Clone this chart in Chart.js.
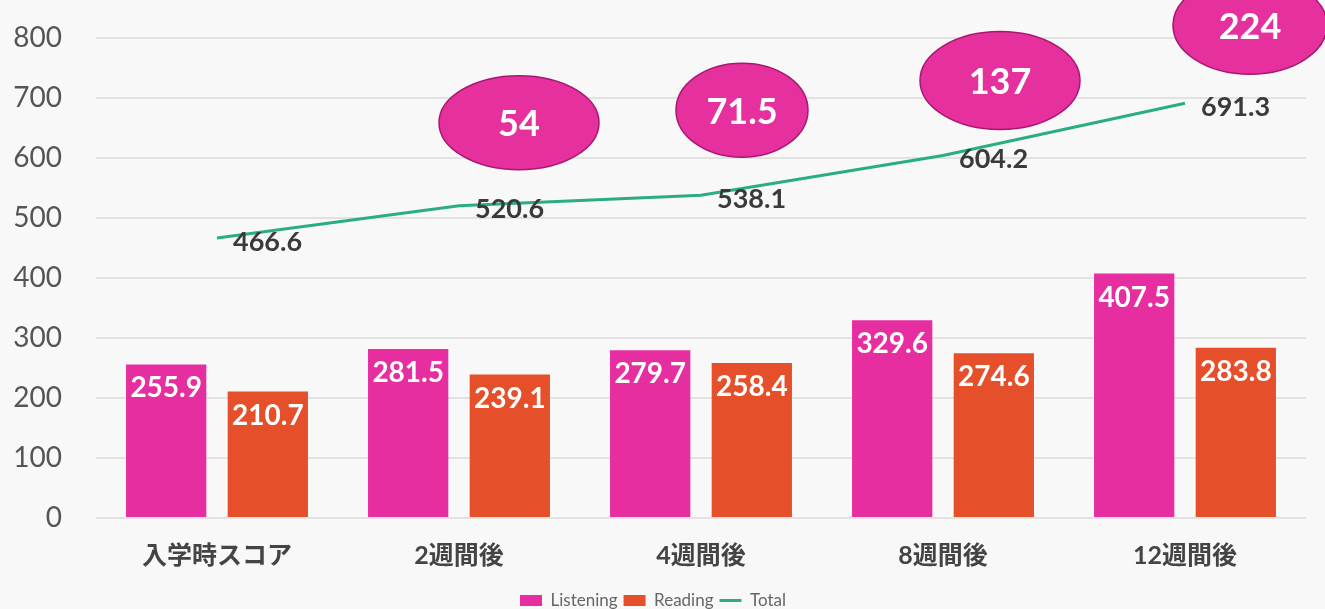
<!DOCTYPE html>
<html>
<head>
<meta charset="utf-8">
<script src="https://cdn.jsdelivr.net/npm/chart.js@4/dist/chart.umd.min.js"></script>
<style>
  html, body { margin: 0; padding: 0; background: #f8f8f8; }
  #wrap { width: 1325px; height: 609px; position: relative; }
</style>
</head>
<body>
<div id="wrap"><canvas id="scoreChart"></canvas></div>
<script>
// --- Data ---
const categories = ['入学時スコア', '2週間後', '4週間後', '8週間後', '12週間後'];
const listening = [255.9, 281.5, 279.7, 329.6, 407.5];
const reading = [210.7, 239.1, 258.4, 274.6, 283.8];
const total = [466.6, 520.6, 538.1, 604.2, 691.3];
const gains = [null, 54, 71.5, 137, 224];
const yMax = 800;
const yStep = 100;

const FONT = 'Lato, "Noto Sans CJK JP", sans-serif';

// bar value labels, drawn inside the top of each bar
const barLabels = {
    id: 'barLabels',
    afterDatasetsDraw(chart) {
        const ctx = chart.ctx;
        ctx.save();
        ctx.font = 'bold 28px ' + FONT;
        ctx.fillStyle = '#ffffff';
        ctx.textAlign = 'center';
        ctx.textBaseline = 'middle';
        [0, 1].forEach(di => {
            chart.getDatasetMeta(di).data.forEach((bar, i) => {
                const v = chart.data.datasets[di].data[i];
                ctx.fillText(v.toFixed(1), bar.x, bar.y + 24);
            });
        });
        ctx.restore();
    }
};

// total labels to the right of each line point, plus the gain ellipses
const totalLabels = {
    id: 'totalLabels',
    afterDatasetsDraw(chart) {
        const ctx = chart.ctx;
        const meta = chart.getDatasetMeta(2);
        ctx.save();
        ctx.font = 'bold 27px ' + FONT;
        ctx.fillStyle = '#3a3a3a';
        ctx.textAlign = 'left';
        ctx.textBaseline = 'middle';
        meta.data.forEach((pt, i) => {
            ctx.fillText(total[i].toFixed(1), pt.x + 16, pt.y + 4);
        });

        // ellipse placement relative to the line point
        const shift = [null, [60, -83, 80, 47], [41, -85, 66, 47], [57, -75, 80, 49], [65, -78, 77, 49]];
        meta.data.forEach((pt, i) => {
            if (gains[i] == null) return;
            const [dx, dy, rx, ry] = shift[i];
            const cx = pt.x + dx, cy = pt.y + dy;
            ctx.beginPath();
            ctx.ellipse(cx, cy, rx, ry, 0, 0, Math.PI * 2);
            ctx.fillStyle = '#e5309e';
            ctx.fill();
            ctx.lineWidth = 1.5;
            ctx.strokeStyle = '#a8176f';
            ctx.stroke();
            ctx.font = 'bold 36px ' + FONT;
            ctx.fillStyle = '#ffffff';
            ctx.textAlign = 'center';
            ctx.fillText(String(gains[i]), cx, cy + 2);
        });
        ctx.restore();
    }
};

document.addEventListener('DOMContentLoaded', () => {
    const ctx = document.getElementById('scoreChart').getContext('2d');
    new Chart(ctx, {
        data: {
            labels: categories,
            datasets: [
                {
                    type: 'bar',
                    label: 'Listening',
                    data: listening,
                    backgroundColor: '#e62ea0',
                    categoryPercentage: 0.84,
                    barPercentage: 0.79
                },
                {
                    type: 'bar',
                    label: 'Reading',
                    data: reading,
                    backgroundColor: '#e5502b',
                    categoryPercentage: 0.84,
                    barPercentage: 0.79
                },
                {
                    type: 'line',
                    label: 'Total',
                    data: total,
                    borderColor: '#2aad84',
                    backgroundColor: '#2aad84',
                    borderWidth: 3,
                    pointRadius: 0,
                    tension: 0
                }
            ]
        },
        options: {
            responsive: true,
            maintainAspectRatio: false,
            animation: false,
            layout: { padding: { top: 38, right: 19, left: 0, bottom: -10 } },
            plugins: {
                legend: {
                    position: 'bottom',
                    labels: {
                        usePointStyle: true,
                        pointStyleWidth: 22,
                        boxHeight: 11,
                        padding: 6,
                        color: '#666666',
                        font: { family: FONT, size: 17 },
                        generateLabels(chart) {
                            const items = Chart.defaults.plugins.legend.labels.generateLabels(chart);
                            items.forEach(it => {
                                it.pointStyle = it.datasetIndex === 2 ? 'line' : 'rect';
                            });
                            return items;
                        }
                    }
                },
                tooltip: { enabled: false }
            },
            scales: {
                x: {
                    grid: { display: false },
                    border: { display: false },
                    ticks: {
                        color: '#444444',
                        padding: 15,
                        font: { family: FONT, size: 25, weight: 'bold' }
                    }
                },
                y: {
                    min: 0,
                    max: yMax,
                    afterFit(axis) {
                        axis.width = 96;
                        axis.paddingTop = 0;
                        axis.paddingBottom = 0;
                    },
                    grid: { color: '#e2e2e2', lineWidth: 2, drawTicks: false },
                    border: { display: false },
                    ticks: {
                        stepSize: yStep,
                        color: '#555555',
                        padding: 34,
                        font: { family: FONT, size: 28 }
                    }
                }
            }
        },
        plugins: [barLabels, totalLabels]
    });
});
</script>
</body>
</html>
